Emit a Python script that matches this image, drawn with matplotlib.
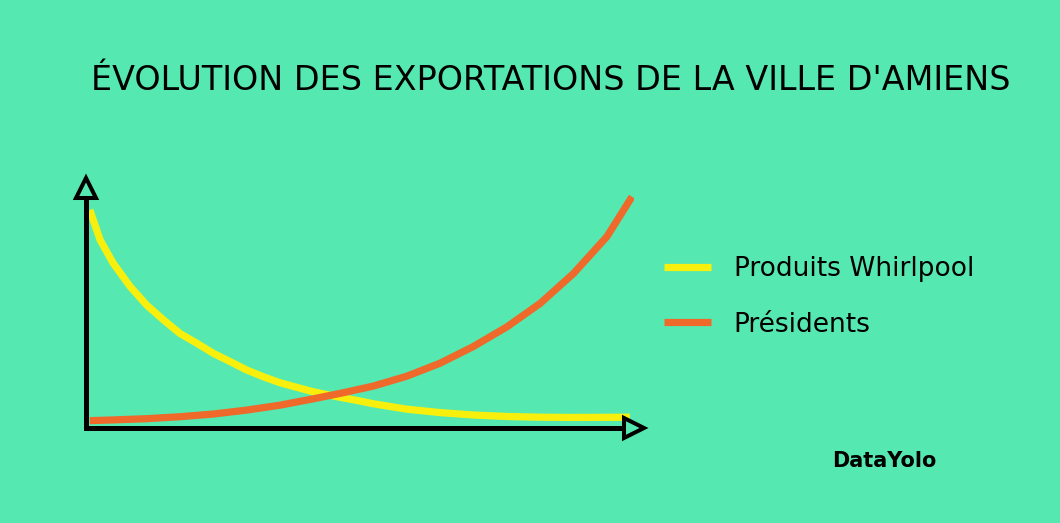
import matplotlib
matplotlib.use("Agg")
import matplotlib.pyplot as plt

# couleurs
bg = "#55E9B1"
yellow = "#F8F00C"
orange = "#EF692B"

# Produits Whirlpool (en baisse)
whirlpool_x = [0.7, 2.6, 5.0, 8.1, 11.1, 14.2, 17.2, 20.3, 23.3, 26.4, 29.4, 32.5,
               35.5, 38.6, 41.6, 45.9, 50.2, 52.6, 58.7, 64.8, 70.9, 77.1, 83.2,
               89.3, 99.6]
whirlpool_y = [89.0, 76.7, 67.2, 57.7, 50.2, 44.1, 38.6, 34.6, 30.5, 27.1, 23.7, 20.9,
               18.5, 16.6, 14.8, 12.8, 11.0, 9.9, 7.7, 6.3, 5.3, 4.7, 4.4,
               4.3, 4.4]

# Présidents (en hausse)
presidents_x = [0.7, 5.0, 11.1, 17.2, 23.3, 29.4, 35.5, 41.6, 46.5, 52.6, 58.7,
                64.8, 70.9, 77.1, 83.2, 89.3, 95.4, 100.0]
presidents_y = [3.0, 3.3, 3.8, 4.6, 5.7, 7.3, 9.3, 11.9, 14.1, 17.1, 21.1,
                26.4, 33.2, 41.3, 50.9, 63.1, 78.1, 94.4]

labels = ["Produits Whirlpool", "Présidents"]
title = "ÉVOLUTION DES EXPORTATIONS DE LA VILLE D'AMIENS"

W, H = 1060, 523
fig = plt.figure(figsize=(W / 100, H / 100), dpi=100, facecolor=bg)

# axes placés en pixels (gauche, bas, droite, haut)
left, bottom, right, top = 86, 95, 634, 335
ax = fig.add_axes([left / W, bottom / H, (right - left) / W, (top - bottom) / H])
ax.set_facecolor(bg)
ax.set_xlim(0, (right - left) * 100 / 546)
ax.set_ylim(0, (top - bottom) / 2.45)

l1, = ax.plot(whirlpool_x, whirlpool_y, color=yellow, lw=5.2, solid_capstyle="butt",
              solid_joinstyle="round")
l2, = ax.plot(presidents_x, presidents_y, color=orange, lw=5.2, solid_capstyle="butt",
              solid_joinstyle="round")

for s in ["top", "right"]:
    ax.spines[s].set_visible(False)
for s in ["left", "bottom"]:
    ax.spines[s].set_linewidth(3.6)
    ax.spines[s].set_color("black")
    ax.spines[s].set_capstyle("projecting")
ax.set_xticks([])
ax.set_yticks([])

# flèches ouvertes au bout des axes
ax.plot([0], [1], marker="^", ms=15, mfc=bg, mec="black", mew=2.9,
        transform=ax.transAxes, clip_on=False, zorder=5)
ax.plot([1], [0], marker=">", ms=15, mfc=bg, mec="black", mew=2.9,
        transform=ax.transAxes, clip_on=False, zorder=5)

fig.text(551 / W, 1 - 80 / H, title, ha="center", va="center",
         fontsize=24, color="black", family="DejaVu Sans")

fig.legend([l1, l2], labels, loc="center left",
           bbox_to_anchor=(640 / W, 1 - 297 / H), frameon=False,
           fontsize=19, handlelength=1.8, handletextpad=0.85, labelspacing=1.1)

fig.text(884 / W, 1 - 461 / H, "DataYolo", ha="center", va="center",
         fontsize=15, fontweight="bold", color="black")

fig.savefig("out.png", dpi=100, facecolor=bg)
